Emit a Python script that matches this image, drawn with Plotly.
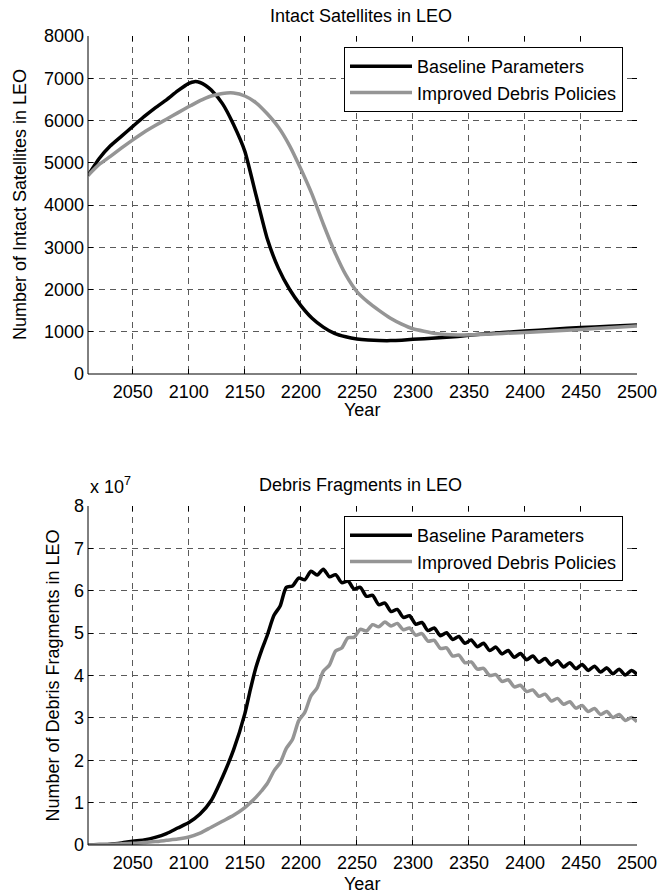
import plotly.graph_objects as go

# ---------------- data ----------------
years_sat = [2010, 2020, 2030, 2040, 2050, 2060, 2070, 2080, 2090, 2100,
             2105, 2110, 2115, 2120, 2130, 2140, 2150, 2160, 2170, 2180,
             2190, 2200, 2210, 2220, 2230, 2240, 2250, 2260, 2270, 2280,
             2290, 2300, 2320, 2340, 2360, 2380, 2400, 2425, 2450, 2475, 2500]
sat_baseline = [4700, 5100, 5400, 5630, 5860, 6090, 6300, 6490, 6700, 6880,
                6920, 6900, 6830, 6720, 6400, 5900, 5270, 4230, 3200, 2500,
                2000, 1620, 1320, 1110, 960, 880, 830, 805, 792, 790,
                800, 820, 850, 890, 940, 980, 1015, 1060, 1100, 1130, 1160]
sat_improved = [4700, 4960, 5150, 5350, 5540, 5720, 5880, 6030, 6180, 6330,
                6400, 6470, 6530, 6580, 6640, 6650, 6580, 6420, 6160, 5840,
                5400, 4850, 4250, 3550, 2900, 2350, 1950, 1700, 1500, 1320,
                1180, 1070, 960, 925, 935, 960, 985, 1020, 1055, 1095, 1135]

years_deb = [2010, 2020, 2030, 2040, 2050, 2060, 2070, 2080, 2090, 2100,
             2110, 2120, 2130, 2140, 2150, 2155, 2160, 2165, 2170,
             2176, 2181.5, 2187, 2192.5, 2198, 2203.5, 2209, 2214.5, 2220, 2225.5,
             2231, 2236.5, 2242, 2247.5, 2253, 2258.5, 2264, 2269.5, 2275, 2280.5,
             2286, 2291.5, 2297, 2302.5, 2308, 2313.5, 2319, 2324.5, 2330, 2335.5,
             2341, 2346.5, 2352, 2357.5, 2363, 2368.5, 2374, 2379.5, 2385, 2390.5,
             2396, 2401.5, 2407, 2412.5, 2418, 2423.5, 2429, 2434.5, 2440, 2445.5,
             2451, 2456.5, 2462, 2467.5, 2473, 2478.5, 2484, 2489.5, 2495, 2500]
# values in units of 1e7
deb_baseline = [0.0, 0.01, 0.02, 0.05, 0.09, 0.12, 0.18, 0.27, 0.4, 0.53,
                0.73, 1.05, 1.6, 2.25, 3.1, 3.68, 4.2, 4.6, 4.95,
                5.42, 5.64, 6.08, 6.11, 6.30, 6.26, 6.46, 6.37, 6.51, 6.33,
                6.38, 6.19, 6.23, 6.04, 6.08, 5.87, 5.89, 5.67, 5.71, 5.51,
                5.56, 5.37, 5.41, 5.21, 5.25, 5.06, 5.12, 4.94, 5.01, 4.85,
                4.92, 4.76, 4.84, 4.68, 4.76, 4.59, 4.67, 4.51, 4.59, 4.43,
                4.52, 4.37, 4.46, 4.31, 4.40, 4.25, 4.35, 4.20, 4.30, 4.16,
                4.26, 4.12, 4.22, 4.08, 4.18, 4.04, 4.15, 4.01, 4.12, 4.03]
deb_improved = [0.0, 0.005, 0.01, 0.03, 0.04, 0.06, 0.08, 0.11, 0.14, 0.19,
                0.28, 0.42, 0.56, 0.7, 0.88, 1.0, 1.13, 1.28, 1.45,
                1.75, 1.94, 2.28, 2.49, 2.93, 3.13, 3.52, 3.71, 4.10, 4.25,
                4.58, 4.65, 4.89, 4.90, 5.09, 5.05, 5.20, 5.15, 5.26, 5.17,
                5.23, 5.08, 5.12, 4.95, 4.99, 4.81, 4.83, 4.64, 4.65, 4.46,
                4.48, 4.30, 4.32, 4.15, 4.17, 4.00, 4.02, 3.86, 3.90, 3.73,
                3.77, 3.62, 3.66, 3.51, 3.56, 3.40, 3.46, 3.32, 3.38, 3.23,
                3.29, 3.15, 3.22, 3.08, 3.15, 3.01, 3.08, 2.94, 3.01, 2.91]

x_ticks = [2050, 2100, 2150, 2200, 2250, 2300, 2350, 2400, 2450, 2500]
y1_ticks = [0, 1000, 2000, 3000, 4000, 5000, 6000, 7000, 8000]
y2_ticks = [0, 1, 2, 3, 4, 5, 6, 7, 8]

series_names = ["Baseline Parameters", "Improved Debris Policies"]
series_colors = ["#000000", "#959595"]

# ---------------- layout geometry (pixels) ----------------
W, H = 661, 893
L, R = 88, 637
T1, B1 = 36, 374
T2, B2 = 506, 845
FONT = "Liberation Sans, Arial, sans-serif"
FS = 18


def fx(p):
    return p / W


def fy(p):
    return 1 - p / H


fig = go.Figure()

line_w = 3.5
fig.add_trace(go.Scatter(x=years_sat, y=sat_baseline, mode="lines", name=series_names[0],
                         line=dict(color=series_colors[0], width=line_w, shape="spline", smoothing=0.5),
                         xaxis="x", yaxis="y", legend="legend"))
fig.add_trace(go.Scatter(x=years_sat, y=sat_improved, mode="lines", name=series_names[1],
                         line=dict(color=series_colors[1], width=line_w, shape="spline", smoothing=0.5),
                         xaxis="x", yaxis="y", legend="legend"))
fig.add_trace(go.Scatter(x=years_deb, y=deb_baseline, mode="lines", name=series_names[0],
                         line=dict(color=series_colors[0], width=line_w, shape="spline", smoothing=0.7),
                         xaxis="x2", yaxis="y2", legend="legend2"))
fig.add_trace(go.Scatter(x=years_deb, y=deb_improved, mode="lines", name=series_names[1],
                         line=dict(color=series_colors[1], width=line_w, shape="spline", smoothing=0.7),
                         xaxis="x2", yaxis="y2", legend="legend2"))

ax_common = dict(showline=False, mirror="ticks", ticks="inside", ticklen=5, tickwidth=1,
                 tickcolor="black", showgrid=True, gridcolor="#5a5a5a", gridwidth=1,
                 griddash="6px,5px", zeroline=False, automargin=False,
                 tickfont=dict(family=FONT, size=FS, color="black"))

fig.update_layout(
    width=W, height=H, margin=dict(l=0, r=0, t=0, b=0, pad=0, autoexpand=False),
    paper_bgcolor="white", plot_bgcolor="white",
    font=dict(family=FONT, size=FS, color="black"),
    xaxis=dict(domain=[fx(L), fx(R)], range=[2010, 2500], tickvals=x_ticks, anchor="y",
               ticklabelstandoff=5, **ax_common),
    yaxis=dict(domain=[fy(B1), fy(T1)], range=[0, 8000], tickvals=y1_ticks, anchor="x",
               ticklabelstandoff=3, **ax_common),
    xaxis2=dict(domain=[fx(L), fx(R)], range=[2010, 2500], tickvals=x_ticks, anchor="y2",
                ticklabelstandoff=5, **ax_common),
    yaxis2=dict(domain=[fy(B2), fy(T2)], range=[0, 8], tickvals=y2_ticks, anchor="x2",
                ticklabelstandoff=3, **ax_common),
    legend=dict(x=fx(344), y=fy(47), xanchor="left", yanchor="top", bgcolor="white",
                bordercolor="black", borderwidth=1, itemwidth=62,
                font=dict(family=FONT, size=FS, color="black")),
    legend2=dict(x=fx(344), y=fy(516), xanchor="left", yanchor="top", bgcolor="white",
                 bordercolor="black", borderwidth=1, itemwidth=62,
                 font=dict(family=FONT, size=FS, color="black")),
    showlegend=True,
)

shapes = []
for xr, yr in (("x", "y"), ("x2", "y2")):
    shapes.append(dict(type="line", xref=xr + " domain", yref=yr + " domain", x0=0, x1=0, y0=0, y1=1,
                       line=dict(color="black", width=1)))
    shapes.append(dict(type="line", xref=xr + " domain", yref=yr + " domain", x0=0, x1=1, y0=0, y1=0,
                       line=dict(color="black", width=1)))
fig.update_layout(shapes=shapes)

ann = [
    dict(text="Intact Satellites in LEO", x=fx(361), y=fy(16)),
    dict(text="Year", x=fx(362), y=fy(410)),
    dict(text="Number of Intact Satellites in LEO", x=fx(20), y=fy((T1 + B1) / 2), textangle=-90),
    dict(text="Debris Fragments in LEO", x=fx(360), y=fy(485)),
    dict(text="Year", x=fx(362), y=fy(884)),
    dict(text="Number of Debris Fragments in LEO", x=fx(52), y=fy((T2 + B2) / 2), textangle=-90),
]
annotations = []
for a in ann:
    d = dict(xref="paper", yref="paper", showarrow=False, xanchor="center", yanchor="middle",
             font=dict(family=FONT, size=FS, color="black"))
    d.update(a)
    annotations.append(d)
annotations.append(dict(text="x 10<sup>7</sup>", xref="paper", yref="paper", x=fx(L), y=fy(499),
                        xanchor="left", yanchor="bottom", showarrow=False,
                        font=dict(family=FONT, size=FS, color="black")))
fig.update_layout(annotations=annotations)

fig.write_html("out.html")
